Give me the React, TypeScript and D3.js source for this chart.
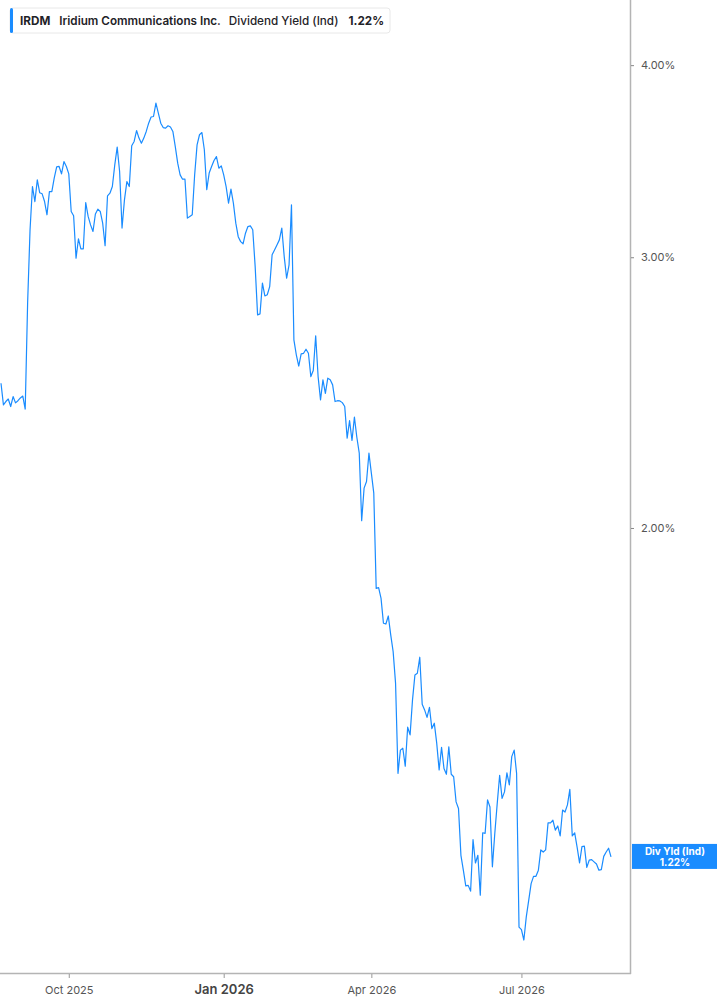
import { useEffect, useRef } from "react"
import * as d3 from "d3"

const WIDTH = 717
const HEIGHT = 1005
const PLOT = { left: 0, right: 630, top: 0, bottom: 973 }

const TICKER = "IRDM"
const COMPANY = "Iridium Communications Inc."
const METRIC = "Dividend Yield (Ind)"
const SHORT_METRIC = "Div Yld (Ind)"
const LINE_COLOR = "#1a8cff"

// daily indicated dividend yield (%), one value per trading day
const augSep2025 = [
  2.484, 2.405, 2.417, 2.426, 2.399, 2.435, 2.412, 2.42, 2.43, 2.437, 2.39, 2.802, 3.126, 3.335,
  3.261, 3.369, 3.304, 3.299, 3.261, 3.197, 3.31, 3.31, 3.379, 3.435, 3.437, 3.399, 3.462, 3.437,
]
const octDec2025 = [
  3.399, 3.213, 3.192, 2.996, 3.084, 3.038, 3.038, 3.256, 3.189, 3.149, 3.118, 3.201, 3.224, 3.213,
  3.157, 3.052, 3.289, 3.302, 3.335, 3.445, 3.538, 3.411, 3.134, 3.269, 3.36, 3.335, 3.545, 3.568,
  3.627, 3.586, 3.559, 3.586, 3.622, 3.667, 3.701, 3.704, 3.779, 3.723, 3.667, 3.643, 3.64, 3.653,
  3.646, 3.622, 3.541, 3.454, 3.394, 3.372, 3.372, 3.181, 3.189, 3.197, 3.394, 3.55, 3.604, 3.616,
  3.524, 3.319, 3.403, 3.437, 3.468, 3.488, 3.428, 3.44,
]
const janMar2026 = [
  3.394, 3.335, 3.253, 3.322, 3.253, 3.157, 3.094, 3.071, 3.061, 3.11, 3.141, 3.144, 3.126, 2.958,
  2.752, 2.756, 2.886, 2.831, 2.836, 2.871, 3.011, 3.033, 3.056, 3.079, 3.134, 3.003, 2.907, 2.966,
  3.245, 2.651, 2.592, 2.549, 2.596, 2.598, 2.614, 2.598, 2.509, 2.532, 2.667, 2.509, 2.423, 2.497,
  2.447, 2.503, 2.497, 2.478, 2.417, 2.42, 2.419, 2.413, 2.399, 2.288, 2.349, 2.28, 2.361, 2.291,
  2.237, 2.022, 2.123, 2.144, 2.237,
]
const aprJun2026 = [
  2.171, 2.107, 1.827, 1.829, 1.8, 1.734, 1.732, 1.753, 1.704, 1.662, 1.585, 1.385, 1.434, 1.438,
  1.4, 1.484, 1.467, 1.546, 1.605, 1.609, 1.648, 1.536, 1.523, 1.506, 1.529, 1.481, 1.493, 1.449,
  1.392, 1.44, 1.395, 1.383, 1.441, 1.383, 1.378, 1.327, 1.314, 1.225, 1.198, 1.17, 1.171, 1.161,
  1.254, 1.211, 1.225, 1.154, 1.267, 1.266, 1.331, 1.317, 1.204, 1.266, 1.324, 1.381, 1.334, 1.347,
  1.386, 1.361, 1.42, 1.434, 1.385, 1.1,
]
const julAug2026 = [
  1.096, 1.079, 1.117, 1.145, 1.174, 1.187, 1.187, 1.198, 1.235, 1.231, 1.235, 1.286, 1.286, 1.291,
  1.272, 1.28, 1.261, 1.311, 1.307, 1.321, 1.352, 1.261, 1.267, 1.24, 1.211, 1.241, 1.242, 1.203,
  1.216, 1.217, 1.213, 1.209, 1.198, 1.199, 1.223, 1.231, 1.238, 1.222,
]

const segments = [augSep2025, octDec2025, janMar2026, aprJun2026, julAug2026]
// one label per segment start (after the first)
const xTickLabels = ["Oct 2025", "Jan 2026", "Apr 2026", "Jul 2026"]
const boldTick = "Jan 2026"
const yTicks = [2, 3, 4]
const yDomain = [1.027, 4.41]

export default function App() {
  const svgRef = useRef<SVGSVGElement>(null)

  useEffect(() => {
    if (!svgRef.current) return
    const svg = d3.select(svgRef.current)
    svg.selectAll("*").remove()

    const values = segments.flat()
    const tickIdx: number[] = []
    let acc = 0
    segments.forEach((s, i) => {
      if (i > 0) tickIdx.push(acc)
      acc += s.length
    })

    const x = d3.scaleLinear().domain([0, values.length - 1]).range([1, 611])
    const y = d3.scaleLog().domain(yDomain).range([PLOT.bottom, PLOT.top])

    // frame lines
    svg.append("line")
      .attr("x1", PLOT.right + 0.5).attr("x2", PLOT.right + 0.5)
      .attr("y1", 0).attr("y2", PLOT.bottom + 1)
      .attr("stroke", "#b4b4b4").attr("stroke-width", 1.5)
    svg.append("line")
      .attr("x1", 0).attr("x2", PLOT.right + 1)
      .attr("y1", PLOT.bottom + 0.5).attr("y2", PLOT.bottom + 0.5)
      .attr("stroke", "#b4b4b4").attr("stroke-width", 1.5)

    // y axis (right)
    const yAxis = svg.append("g")
      .attr("transform", `translate(${PLOT.right + 1},0)`)
      .call(d3.axisRight(y).tickValues(yTicks).tickFormat((d) => `${(+d).toFixed(2)}%`).tickSize(3).tickPadding(7))
    yAxis.select(".domain").remove()
    yAxis.selectAll("line").attr("stroke", "#888")
    yAxis.selectAll("text")
      .attr("font-family", "Inter, sans-serif").attr("font-size", "11px").attr("fill", "#555")

    // x axis
    const xAxis = svg.append("g")
      .attr("transform", `translate(0,${PLOT.bottom + 1})`)
      .call(d3.axisBottom(x).tickValues(tickIdx).tickFormat((_, i) => xTickLabels[i]).tickSize(4).tickPadding(6))
    xAxis.select(".domain").remove()
    xAxis.selectAll("line").attr("stroke", "#999")
    xAxis.selectAll("text")
      .attr("font-family", "Inter, sans-serif")
      .attr("font-size", (_, i) => (xTickLabels[i] === boldTick ? "13px" : "11px"))
      .attr("font-weight", (_, i) => (xTickLabels[i] === boldTick ? 600 : 400))
      .attr("fill", (_, i) => (xTickLabels[i] === boldTick ? "#444" : "#555"))
      .attr("dy", (_, i) => (xTickLabels[i] === boldTick ? "0.8em" : "0.9em"))

    // line
    const line = d3.line<number>().x((_, i) => x(i)).y((d) => y(d))
    svg.append("path")
      .datum(values)
      .attr("fill", "none")
      .attr("stroke", LINE_COLOR)
      .attr("stroke-width", 1.2)
      .attr("stroke-linejoin", "round")
      .attr("d", line)

    const last = values[values.length - 1]
    const lastLabel = `${last.toFixed(2)}%`

    // last value badge
    const by = y(last)
    const badge = svg.append("g").attr("transform", `translate(${PLOT.right + 2},${by - 13})`)
    badge.append("rect").attr("width", WIDTH - PLOT.right).attr("height", 25).attr("fill", LINE_COLOR)
    badge.append("text").attr("x", 43).attr("y", 11.5).attr("text-anchor", "middle")
      .attr("font-family", "Inter, sans-serif").attr("font-size", "10px").attr("font-weight", 700)
      .attr("fill", "#fff").text(SHORT_METRIC)
    badge.append("text").attr("x", 43).attr("y", 22.5).attr("text-anchor", "middle")
      .attr("font-family", "Inter, sans-serif").attr("font-size", "10px").attr("font-weight", 700)
      .attr("fill", "#fff").text(lastLabel)

    // legend
    const lg = svg.append("g").attr("transform", "translate(10,8)")
    const box = lg.append("rect").attr("height", 25).attr("rx", 3)
      .attr("fill", "#fff").attr("stroke", "#e8e8e8")
    lg.append("rect").attr("width", 3).attr("height", 25).attr("rx", 1.5).attr("fill", LINE_COLOR)
    const parts = [
      { t: TICKER, w: 700, gap: 9 },
      { t: COMPANY, w: 600, gap: 8 },
      { t: METRIC, w: 500, gap: 10 },
      { t: lastLabel, w: 700, gap: 0 },
    ]
    let tx = 10
    parts.forEach((p) => {
      const t = lg.append("text").attr("x", tx).attr("y", 17)
        .attr("font-family", "Inter, sans-serif").attr("font-size", "11.7px")
        .attr("font-weight", p.w).attr("fill", "#1f2328").text(p.t)
      const len = (t.node() as SVGTextElement).getComputedTextLength()
      tx += len + p.gap
    })
    box.attr("width", tx + 6)
  }, [])

  return (
    <svg ref={svgRef} width={WIDTH} height={HEIGHT} style={{ position: "absolute", left: 0, top: 0, background: "#fff" }} />
  )
}
